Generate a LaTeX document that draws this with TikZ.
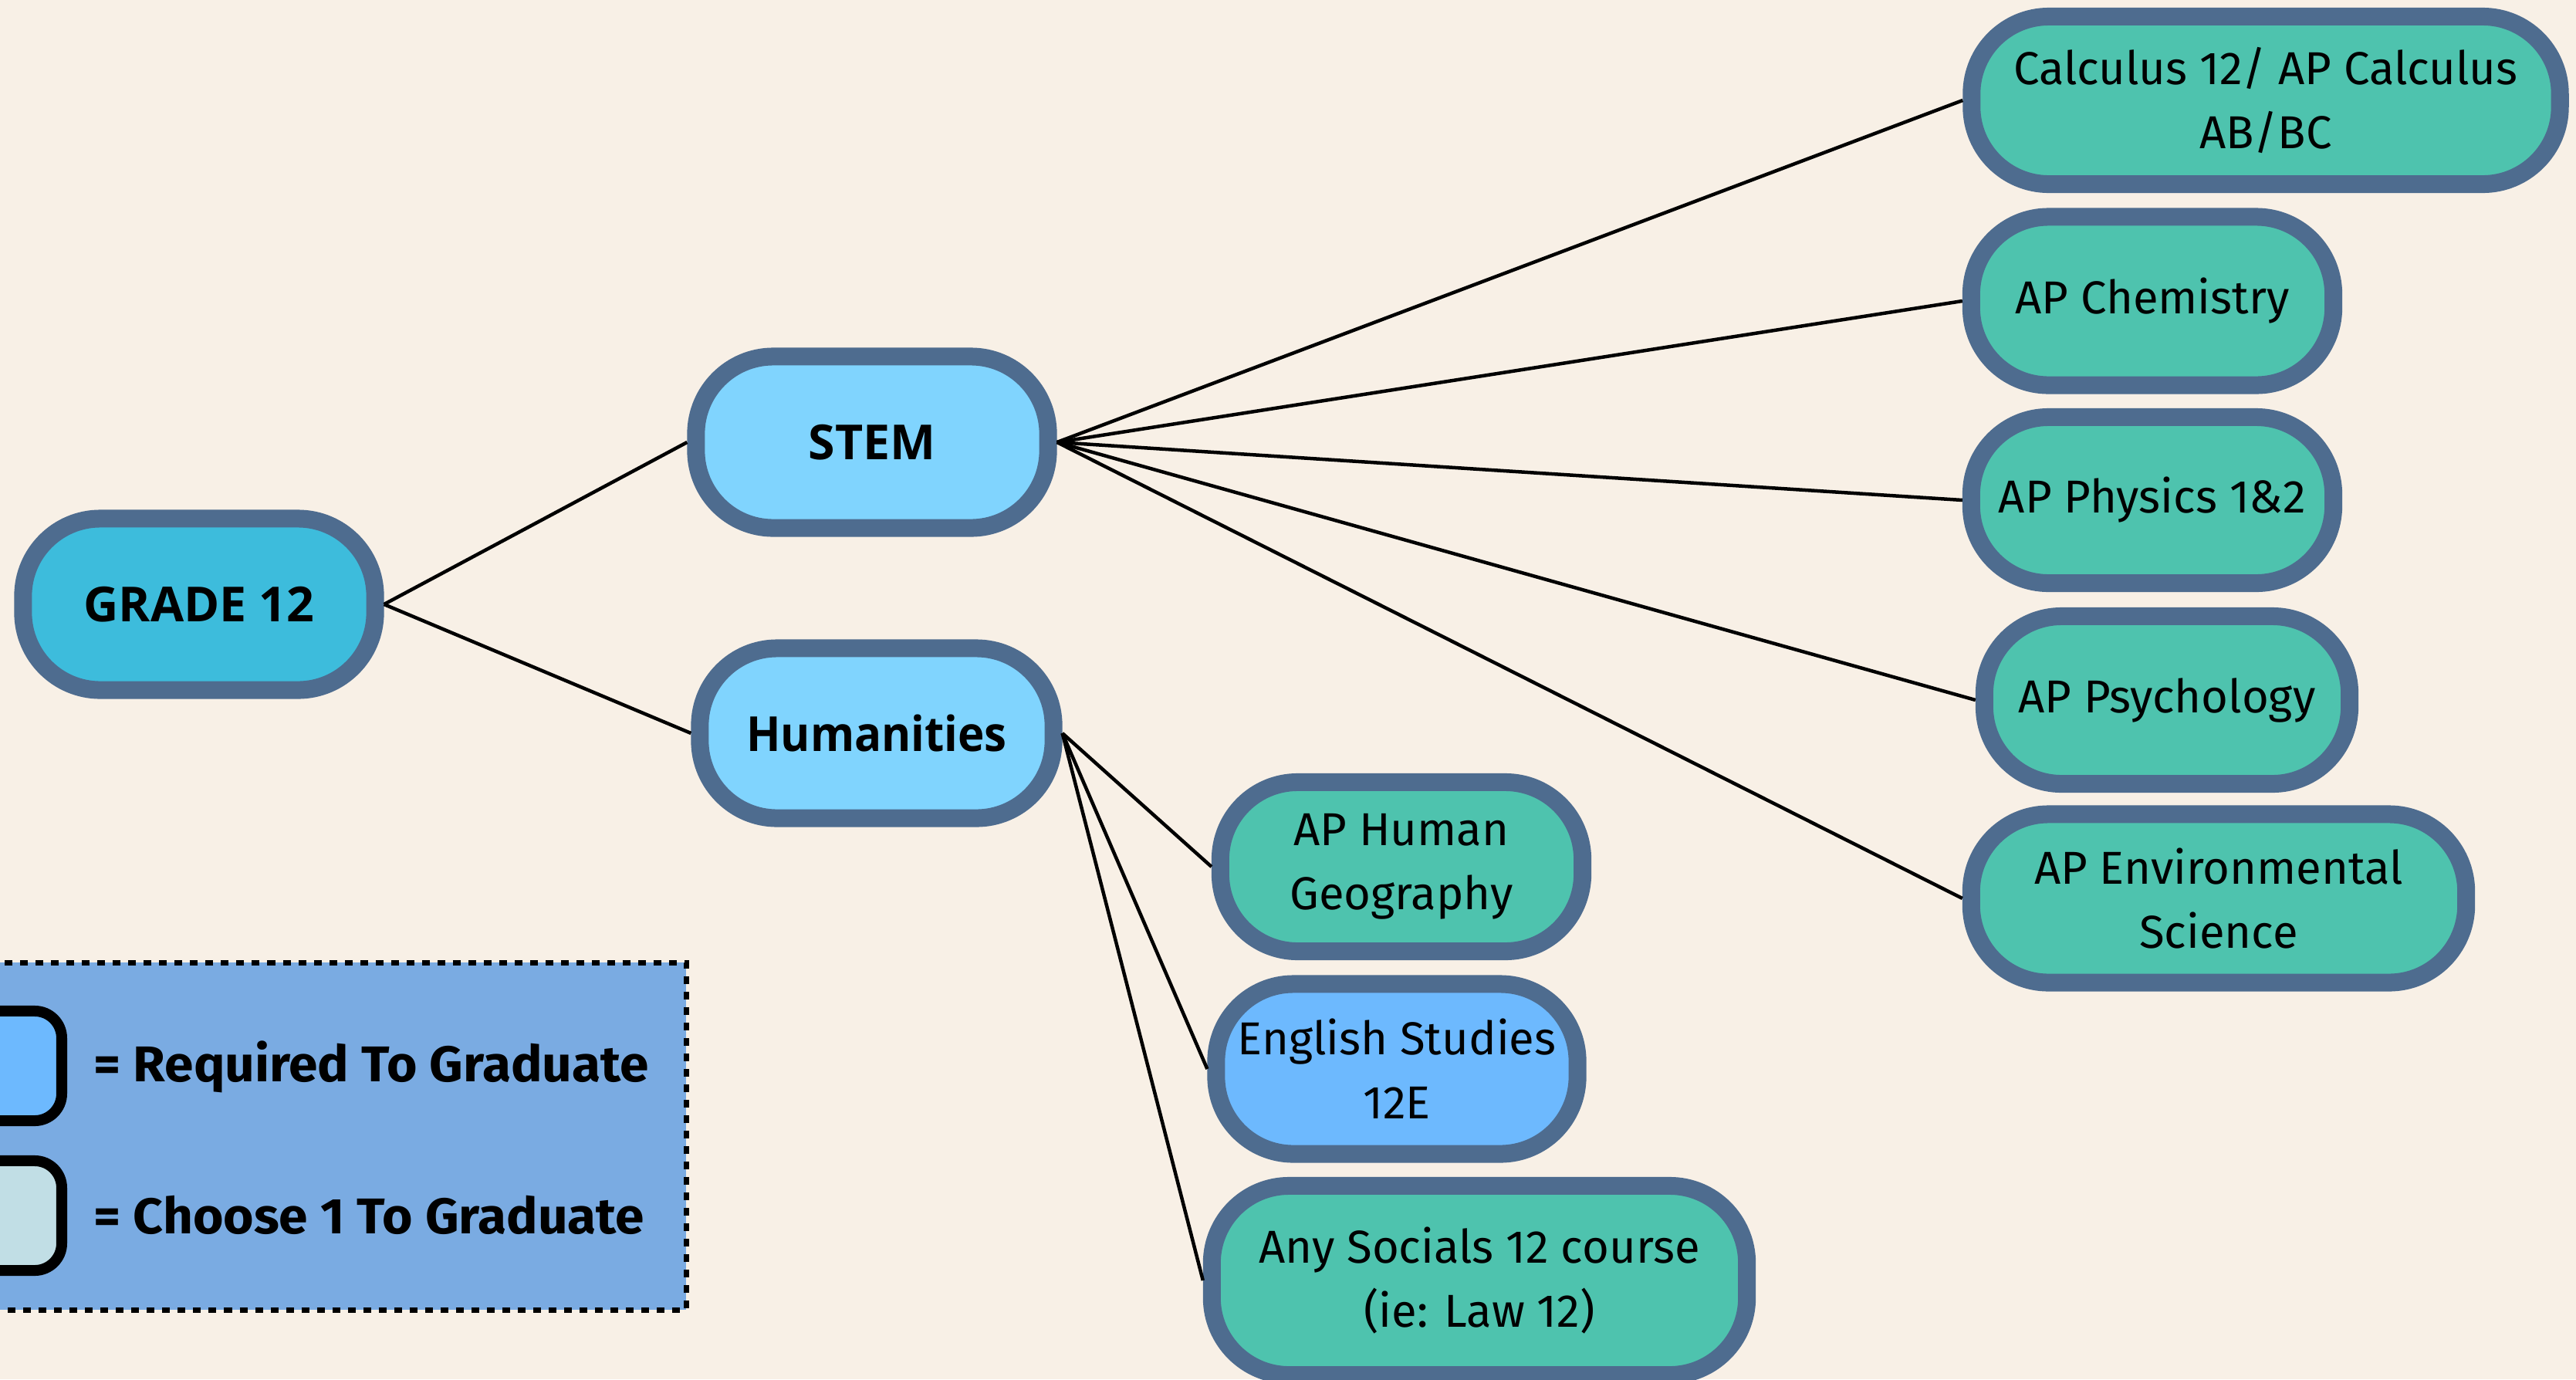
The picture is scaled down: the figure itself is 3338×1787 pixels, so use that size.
\documentclass[tikz,border=0pt]{standalone}
\usepackage{fontspec}
\setmainfont{Fira Sans}
\newfontfamily\opensans{Open Sans}
\definecolor{bg}{HTML}{F8F0E6}
\definecolor{bord}{HTML}{4E6C8F}
\definecolor{gradefill}{HTML}{3DBCDC}
\definecolor{catfill}{HTML}{80D4FE}
\definecolor{coursefill}{HTML}{4EC3AE}
\definecolor{reqfill}{HTML}{6DB9FE}
\definecolor{legendfill}{HTML}{7AABE2}
\definecolor{choosefill}{HTML}{C1DEE5}
\tikzset{
  pill/.style={draw=bord, line width=0.23cm, rounded corners=1.0cm, inner sep=0pt, align=center},
  titlebox/.style={pill, font=\opensans\bfseries\fontsize{17.8pt}{21pt}\selectfont},
  coursebox/.style={pill, fill=coursefill, font=\fontsize{17pt}{23.6pt}\selectfont},
  conn/.style={draw=black, line width=0.045cm},
  swatch/.style={draw=black, line width=0.14cm, rounded corners=0.35cm, minimum width=2cm, minimum height=1.42cm, inner sep=0pt, anchor=east},
  legtext/.style={anchor=west, inner sep=0pt, font=\bfseries\fontsize{18.5pt}{22pt}\selectfont}
}
\begin{document}
\begin{tikzpicture}[x=0.01cm,y=-0.01cm]
\useasboundingbox (0,0) rectangle (3338,1787);
\fill[bg] (0,0) rectangle (3338,1787);
% legend
\draw[fill=legendfill, line width=0.07cm, dash pattern=on 0.1cm off 0.1cm] (-40,1247) rectangle (889,1697);
\node[swatch, fill=reqfill] (sw1) at (87,1381) {};
\node[swatch, fill=choosefill] (sw2) at (87,1575) {};
\node[legtext] (lt1) at (121,1382) {\scalebox{1.04}[1]{= Required To Graduate}};
\node[legtext] (lt2) at (121,1574) {\scalebox{1.04}[1]{= Choose 1 To Graduate}};
% main nodes
\node[titlebox, fill=gradefill, minimum width=4.56cm, minimum height=2.22cm] (grade) at (258,783) {GRADE 12};
\node[titlebox, fill=catfill, minimum width=4.56cm, minimum height=2.22cm] (stem) at (1130,573) {STEM};
\node[titlebox, fill=catfill, minimum width=4.58cm, minimum height=2.20cm] (hum) at (1136,950) {\scalebox{0.93}[1]{Humanities}};
\node[coursebox, minimum width=7.62cm, minimum height=2.17cm] (calc) at (2936,130) {Calculus 12/ AP Calculus\\AB/BC};
\node[coursebox, minimum width=4.69cm, minimum height=2.18cm] (chem) at (2789,390) {AP Chemistry};
\node[coursebox, minimum width=4.69cm, minimum height=2.15cm] (phys) at (2789,648) {AP Physics 1\&2};
\node[coursebox, minimum width=4.73cm, minimum height=2.17cm] (psych) at (2808,907) {AP Psychology};
\node[coursebox, minimum width=6.41cm, minimum height=2.18cm] (env) at (2875,1164) {AP Environmental\\Science};
\node[coursebox, minimum width=4.69cm, minimum height=2.19cm] (geo) at (1816,1123) {AP Human\\Geography};
\node[coursebox, fill=reqfill, minimum width=4.68cm, minimum height=2.20cm] (eng) at (1810,1385) {English Studies\\12E};
\node[coursebox, minimum width=6.93cm, minimum height=2.45cm] (soc) at (1917,1659) {Any Socials 12 course\\(ie: Law 12)};
% connectors
\draw[conn] (grade.east) -- (stem.west);
\draw[conn] (grade.east) -- (hum.west);
\foreach \t in {calc,chem,phys,psych,env}{\draw[conn] (stem.east) -- (\t.west);}
\foreach \t in {geo,eng,soc}{\draw[conn] (hum.east) -- (\t.west);}
\end{tikzpicture}
\end{document}
